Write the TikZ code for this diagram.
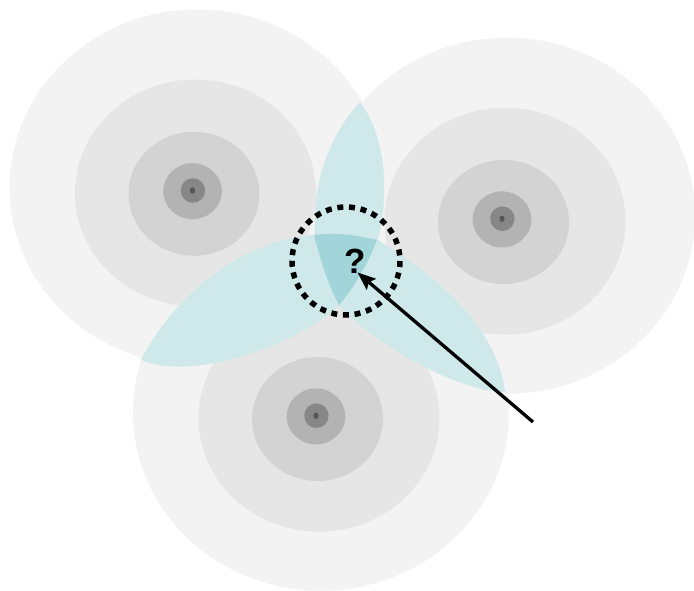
\documentclass[tikz,border=0pt]{standalone}
\usepackage{fontspec}
\setmainfont{Liberation Sans}
\usetikzlibrary{arrows.meta}
\definecolor{ringA}{HTML}{F3F3F3}
\definecolor{ringB}{HTML}{E6E6E6}
\definecolor{ringC}{HTML}{D3D3D3}
\definecolor{ringD}{HTML}{B3B3B3}
\definecolor{ringE}{HTML}{878787}
\definecolor{ringF}{HTML}{555555}
\definecolor{lobe}{HTML}{CFE8EA}
\definecolor{core}{HTML}{A2D5D9}
\tikzset{
  dotring/.style={line width=5.5pt, dash pattern=on 6pt off 5.7pt, draw=black},
  pointer/.style={line width=3.3pt, draw=black, -{Stealth[length=18pt,width=14pt,inset=3pt]}},
  qmark/.style={font=\bfseries\fontsize{35}{40}\selectfont, inner sep=0pt, anchor=base}
}
\begin{document}
\begin{tikzpicture}[x=1pt,y=-1pt]
\clip (0,0) rectangle (694,591);
\fill[white] (0,0) rectangle (694,591);
% concentric rings, drawn layer by layer
\foreach \cx/\cy in {192.5/190.5, 502/218.7, 316/415.7}
  \fill[ringA] (\cx+5,\cy-3) ellipse [x radius=188, y radius=178];
\foreach \cx/\cy in {192.5/190.5, 502/218.7, 316/415.7}
  \fill[ringB] (\cx+3,\cy+2.5) ellipse [x radius=120.5, y radius=113.5];
\foreach \cx/\cy in {192.5/190.5, 502/218.7, 316/415.7}
  \fill[ringC] (\cx+1.5,\cy+3.3) ellipse [x radius=65.5, y radius=62];
\foreach \cx/\cy in {192.5/190.5, 502/218.7, 316/415.7}
  \fill[ringD] (\cx,\cy+0.7) ellipse [x radius=29.3, y radius=28];
\foreach \cx/\cy in {192.5/190.5, 502/218.7, 316/415.7}
  \fill[ringE] (\cx+0.4,\cy) ellipse [x radius=12.2, y radius=12.3];
\foreach \cx/\cy in {192.5/190.5, 502/218.7, 316/415.7}
  \fill[ringF] (\cx,\cy) ellipse [x radius=2.6, y radius=3.2];
% three lobes (union)
\fill[lobe] (360,102) .. controls (385,135) and (390,190) .. (378,240)
  .. controls (440,278) and (497,328) .. (505,392)
  .. controls (460,392) and (380,348) .. (339,306)
  .. controls (285,352) and (188,380) .. (141,360)
  .. controls (178,288) and (250,238) .. (315,235)
  .. controls (312,180) and (330,135) .. (360,102) -- cycle;
% common overlap
\fill[core] (314,235) .. controls (340,232) and (360,236) .. (377,240)
  .. controls (366,268) and (352,290) .. (339,305)
  .. controls (328,285) and (320,258) .. (314,235) -- cycle;
% dotted circle
\coordinate (ringcenter) at (346,261);
\draw[dotring] (ringcenter) circle [radius=54];
% question mark and arrow
\node[qmark] (q) at (355,273) {?};
\coordinate (arrowstart) at (533,422);
\coordinate (arrowtip) at (357.5,272.5);
\draw[pointer] (arrowstart) -- (arrowtip);
\end{tikzpicture}
\end{document}
